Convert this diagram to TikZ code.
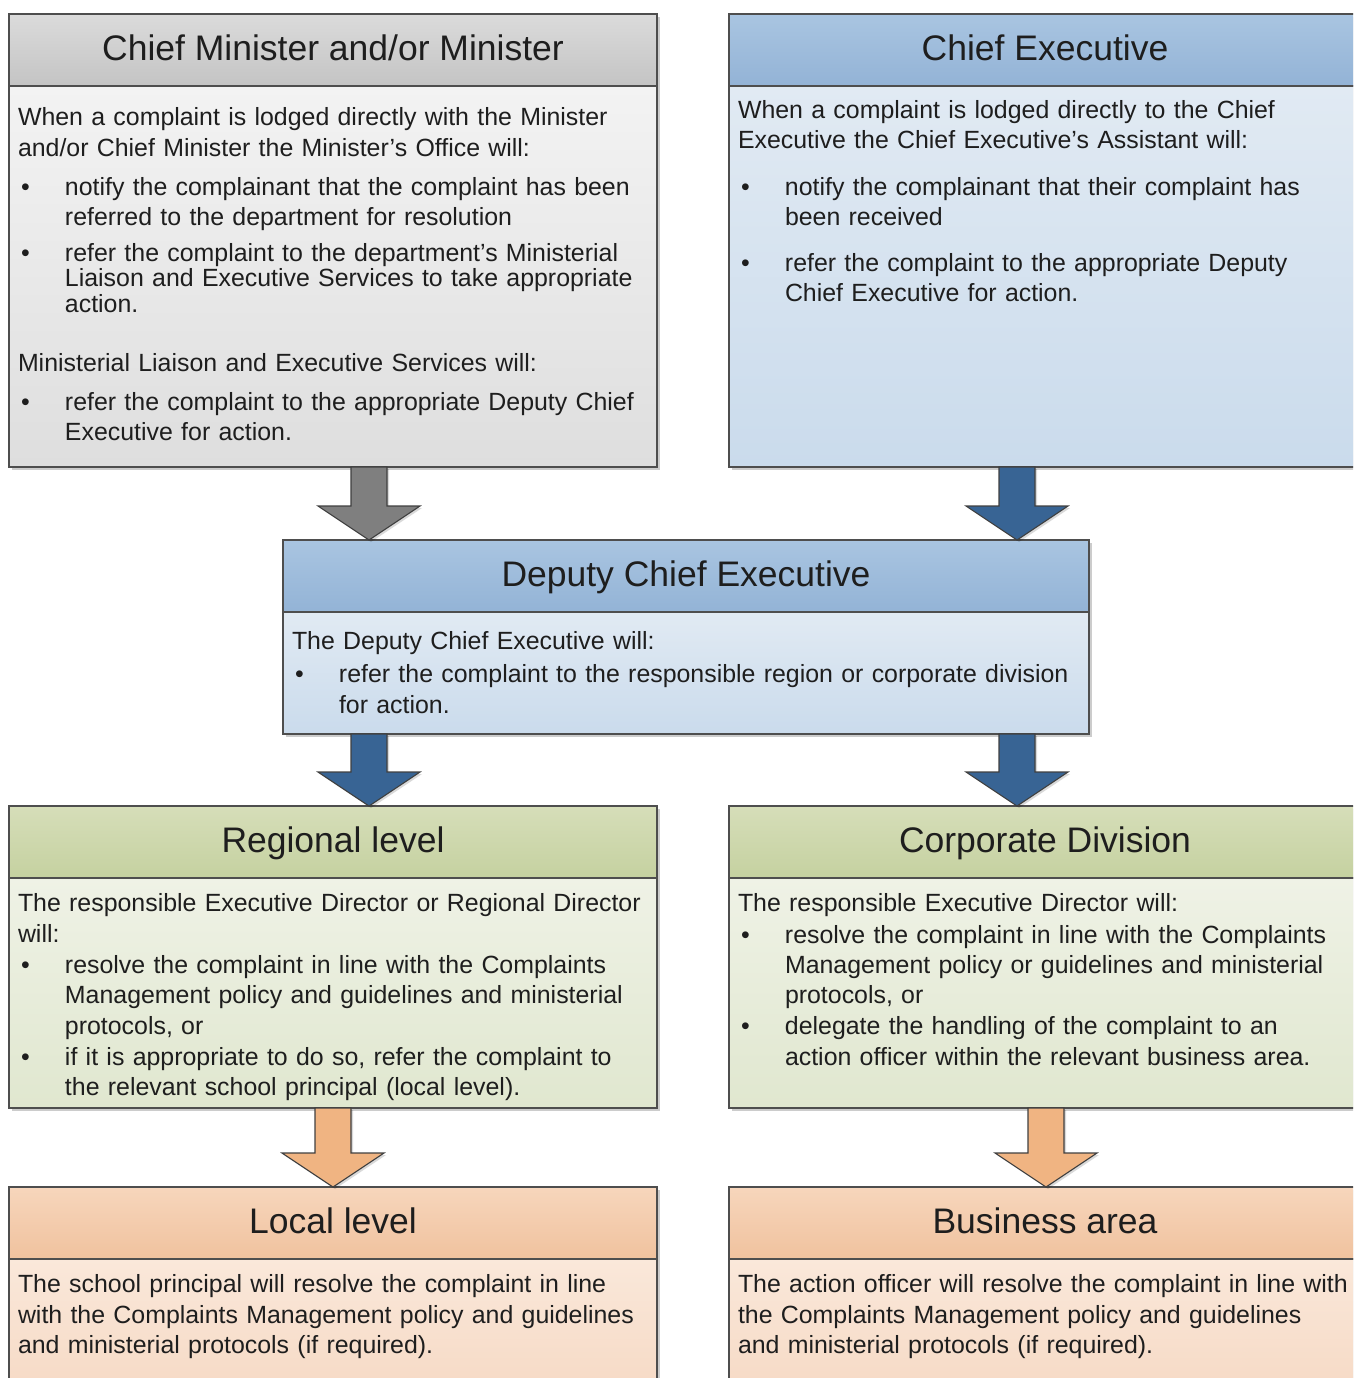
\documentclass[tikz,border=0pt]{standalone}
\usepackage{fontspec}
\setmainfont{Liberation Sans}
\usetikzlibrary{calc,shadows}

% frame and text colours
\definecolor{edge}{HTML}{4E4E4E}
\definecolor{ink}{HTML}{1E1E1E}
% grey panel
\definecolor{gHtop}{HTML}{DBDBDB}\definecolor{gHbot}{HTML}{C4C4C4}
\definecolor{gBtop}{HTML}{F3F3F3}\definecolor{gBbot}{HTML}{DEDEDE}
% blue panels
\definecolor{bHtop}{HTML}{A9C5E1}\definecolor{bHbot}{HTML}{93B3D6}
\definecolor{bBtop}{HTML}{E1EAF3}\definecolor{bBbot}{HTML}{CADBEC}
% green panels
\definecolor{vHtop}{HTML}{D6DEB9}\definecolor{vHbot}{HTML}{C5D1A0}
\definecolor{vBtop}{HTML}{EFF2E6}\definecolor{vBbot}{HTML}{E0E7CF}
% orange panels
\definecolor{oHtop}{HTML}{F7D6BC}\definecolor{oHbot}{HTML}{F0C29E}
\definecolor{oBtop}{HTML}{FAE8DA}\definecolor{oBbot}{HTML}{F6D9C4}
% block arrows
\definecolor{arGrey}{HTML}{7F7F7F}
\definecolor{arBlue}{HTML}{386494}
\definecolor{arOrange}{HTML}{F0B482}

\newcommand\bul{\makebox[47pt][l]{\hspace{3pt}\textbullet}}
\newcommand\cont{\hspace*{47pt}}

% block arrow from a start point (top of shaft) to a tip point
\newcommand\blockarrow[3]{%
  \draw[arrowbody,fill=#3]
    ($(#1)+(-18,0)$) -- ($(#2)+(-18,34)$) -- ($(#2)+(-51,34)$) -- (#2)
    -- ($(#2)+(51,34)$) -- ($(#2)+(18,34)$) -- ($(#1)+(18,0)$) -- cycle;}

\tikzset{
  softshadow/.style={drop shadow={shadow xshift=3pt,shadow yshift=-3pt,
      opacity=0.2,fill=black}},
  hdr/.style={draw=edge,line width=1.4pt,inner sep=0pt,outer sep=0pt,
      anchor=north west,minimum height=72pt,softshadow,
      font=\fontsize{35.5}{40}\selectfont,text=ink,
      text height=21pt,text depth=0pt},
  panel/.style={draw=edge,line width=1.4pt,inner sep=0pt,outer sep=0pt,
      anchor=north west,softshadow},
  txt/.style={anchor=base west,inner sep=0pt,outer sep=0pt,
      text width=660pt,align=left,text=ink,
      font=\fontsize{24.9}{30}\selectfont},
  arrowbody/.style={draw=black!75,line width=1.1pt,line join=miter,
      drop shadow={shadow xshift=2pt,shadow yshift=-2pt,opacity=0.15,fill=black}},
}

\begin{document}
\begin{tikzpicture}[x=1pt,y=1pt]
\useasboundingbox (0,0) rectangle (1353,-1378);
\clip (0,0) rectangle (1353,-1378);

% ---- Chief Minister and/or Minister
\node[hdr,minimum width=648pt,top color=gHtop,bottom color=gHbot]
  (cmH) at (9,-14) {Chief Minister and/or Minister};
\node[panel,minimum width=648pt,minimum height=381pt,
  top color=gBtop,bottom color=gBbot] (cmB) at (cmH.south west) {};
\node[txt] (cmT) at (18,-126) {%
When a complaint is lodged directly with the Minister\\[1pt]
and/or Chief Minister the Minister’s Office will:\\[9pt]
\bul notify the complainant that the complaint has been\\[0pt]
\cont referred to the department for resolution\\[5pt]
\bul refer the complaint to the department’s Ministerial\\[-4pt]
\cont Liaison and Executive Services to take appropriate\\[-5pt]
\cont action.\\[29pt]
Ministerial Liaison and Executive Services will:\\[9pt]
\bul refer the complaint to the appropriate Deputy Chief\\[0pt]
\cont Executive for action.};

% ---- Chief Executive
\node[hdr,minimum width=632pt,top color=bHtop,bottom color=bHbot]
  (ceH) at (729,-14) {Chief Executive};
\node[panel,minimum width=632pt,minimum height=381pt,
  top color=bBtop,bottom color=bBbot] (ceB) at (ceH.south west) {};
\node[txt] (ceT) at (738,-119) {%
When a complaint is lodged directly to the Chief\\[0pt]
Executive the Chief Executive’s Assistant will:\\[17pt]
\bul notify the complainant that their complaint has\\[0pt]
\cont been received\\[16pt]
\bul refer the complaint to the appropriate Deputy\\[0pt]
\cont Chief Executive for action.};

% ---- Deputy Chief Executive
\node[hdr,minimum width=806pt,top color=bHtop,bottom color=bHbot]
  (dceH) at (283,-540) {Deputy Chief Executive};
\node[panel,minimum width=806pt,minimum height=122pt,
  top color=bBtop,bottom color=bBbot] (dceB) at (dceH.south west) {};
\node[txt,text width=800pt] (dceT) at (292,-649) {%
The Deputy Chief Executive will:\\[3pt]
\bul refer the complaint to the responsible region or corporate division\\[1pt]
\cont for action.};

% ---- Regional level
\node[hdr,minimum width=648pt,top color=vHtop,bottom color=vHbot]
  (regH) at (9,-806) {Regional level};
\node[panel,minimum width=648pt,minimum height=230pt,
  top color=vBtop,bottom color=vBbot] (regB) at (regH.south west) {};
\node[txt] (regT) at (18,-911) {%
The responsible Executive Director or Regional Director\\[1pt]
will:\\[1pt]
\bul resolve the complaint in line with the Complaints\\[0pt]
\cont Management policy and guidelines and ministerial\\[1pt]
\cont protocols, or\\[1pt]
\bul if it is appropriate to do so, refer the complaint to\\[0pt]
\cont the relevant school principal (local level).};

% ---- Corporate Division
\node[hdr,minimum width=632pt,top color=vHtop,bottom color=vHbot]
  (corH) at (729,-806) {Corporate Division};
\node[panel,minimum width=632pt,minimum height=230pt,
  top color=vBtop,bottom color=vBbot] (corB) at (corH.south west) {};
\node[txt] (corT) at (738,-911) {%
The responsible Executive Director will:\\[2pt]
\bul resolve the complaint in line with the Complaints\\[0pt]
\cont Management policy or guidelines and ministerial\\[0pt]
\cont protocols, or\\[1pt]
\bul delegate the handling of the complaint to an\\[1pt]
\cont action officer within the relevant business area.};

% ---- Local level
\node[hdr,minimum width=648pt,top color=oHtop,bottom color=oHbot]
  (locH) at (9,-1187) {Local level};
\node[panel,minimum width=648pt,minimum height=140pt,
  top color=oBtop,bottom color=oBbot] (locB) at (locH.south west) {};
\node[txt] (locT) at (18,-1292) {%
The school principal will resolve the complaint in line\\[1pt]
with the Complaints Management policy and guidelines\\[0pt]
and ministerial protocols (if required).};

% ---- Business area
\node[hdr,minimum width=632pt,top color=oHtop,bottom color=oHbot]
  (busH) at (729,-1187) {Business area};
\node[panel,minimum width=632pt,minimum height=140pt,
  top color=oBtop,bottom color=oBbot] (busB) at (busH.south west) {};
\node[txt] (busT) at (738,-1292) {%
The action officer will resolve the complaint in line with\\[1pt]
the Complaints Management policy and guidelines\\[0pt]
and ministerial protocols (if required).};

% ---- arrow axes
\coordinate (axL) at (369,0);
\coordinate (axR) at (1017,0);
\coordinate (axLL) at (333,0);
\coordinate (axRR) at (1046,0);

% ---- block arrows between the panels
\blockarrow{cmB.south -| axL}{dceH.north -| axL}{arGrey}
\blockarrow{ceB.south -| axR}{dceH.north -| axR}{arBlue}
\blockarrow{dceB.south -| axL}{regH.north -| axL}{arBlue}
\blockarrow{dceB.south -| axR}{corH.north -| axR}{arBlue}
\blockarrow{regB.south -| axLL}{locH.north -| axLL}{arOrange}
\blockarrow{corB.south -| axRR}{busH.north -| axRR}{arOrange}
\end{tikzpicture}
\end{document}
